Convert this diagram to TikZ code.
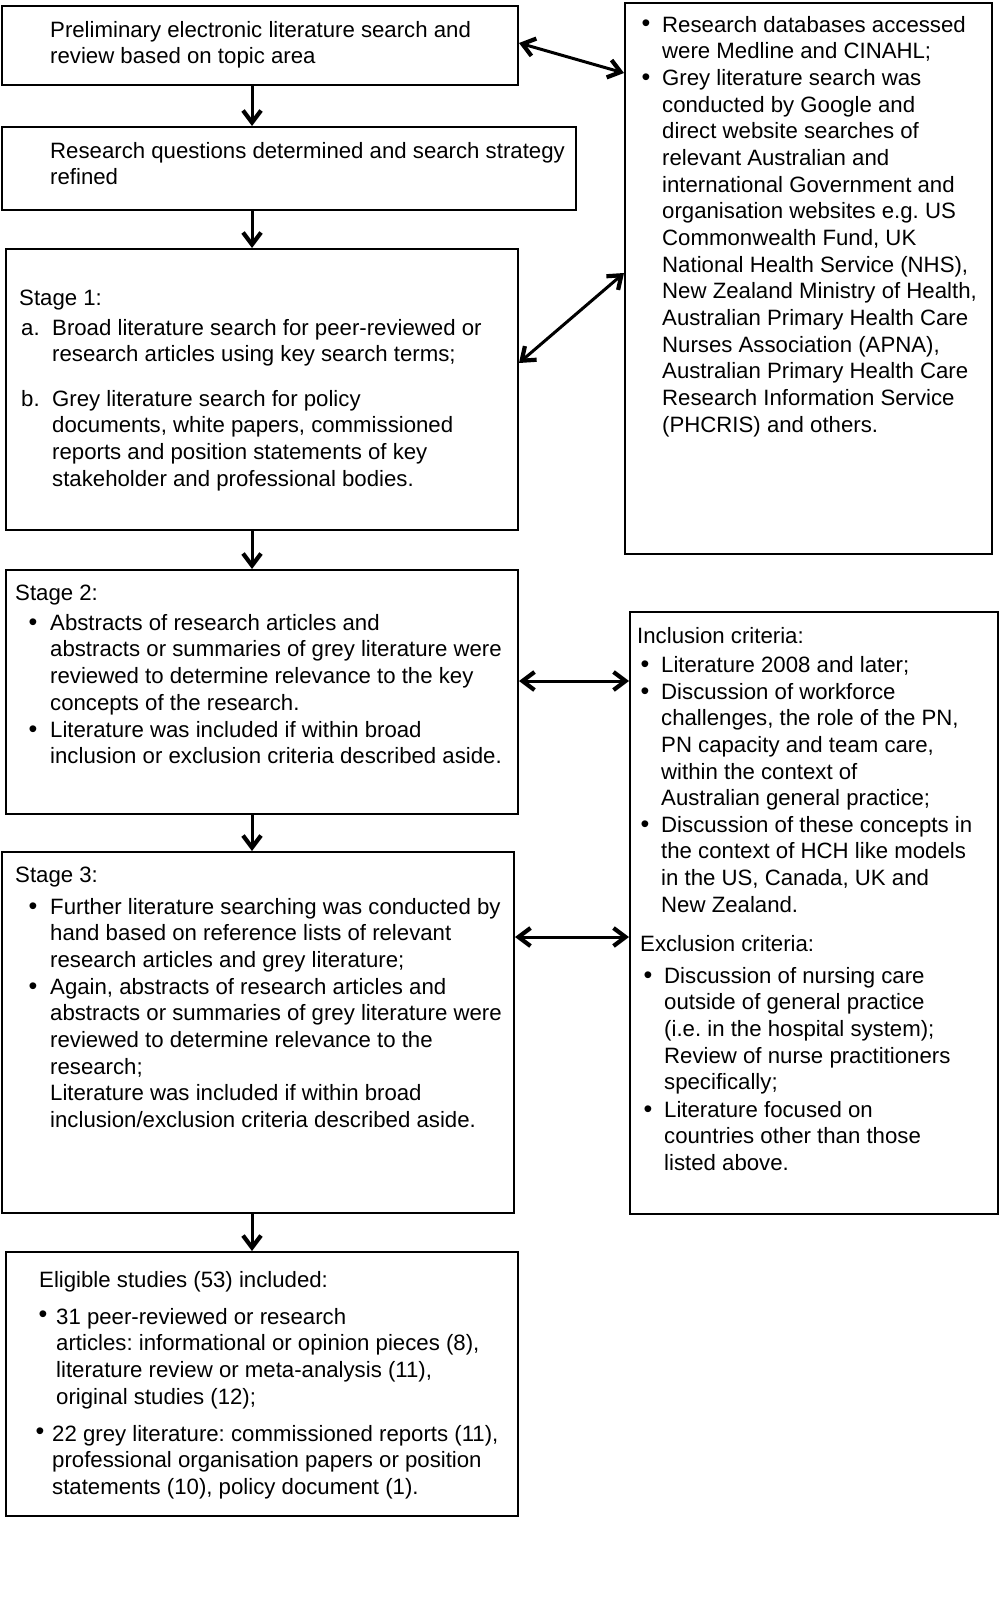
\documentclass[tikz,border=0pt]{standalone}
\usepackage{fontspec}
\setmainfont{Liberation Sans}
\usetikzlibrary{arrows.meta,calc}
\newcommand\fsz{\fontsize{22.2}{26.67}\selectfont\frenchspacing}
\newcommand\tb[4]{\node[txt] (#1) at (#2,#3-18.67) {\strut #4};}
\newcommand\bu[3]{\node[bul] (#1) at (#2,#3) {•};}
\begin{document}
\frenchspacing
\begin{tikzpicture}[x=1pt,y=-1pt,
  box/.style={draw, line width=2pt, inner sep=0pt, anchor=north west},
  tipb/.tip={Straight Barb[length=12pt,width=18pt,line width=4.2pt]},
  arr/.style={line width=3pt, -tipb},
  darr/.style={line width=3pt, tipb-tipb},
  txt/.style={anchor=north west, inner sep=0pt, align=left, font=\fsz},
  bul/.style={anchor=base, inner sep=0pt, font=\fontsize{25}{26.67}\selectfont}]
\useasboundingbox[fill=white] (0,0) rectangle (1000,1597);

% boxes
\node[box, minimum width=516pt, minimum height=79pt]  (b1) at (1,5) {};
\node[box, minimum width=367pt, minimum height=551pt] (db) at (624,2) {};
\node[box, minimum width=574pt, minimum height=83pt]  (b2) at (1,126) {};
\node[box, minimum width=512pt, minimum height=281pt] (b3) at (5,248) {};
\node[box, minimum width=512pt, minimum height=244pt] (s2) at (5,569) {};
\node[box, minimum width=368pt, minimum height=602pt] (inc) at (629,611) {};
\node[box, minimum width=512pt, minimum height=361pt] (s3) at (1,851) {};
\node[box, minimum width=512pt, minimum height=264pt] (el) at (5,1251) {};

% vertical arrows
\coordinate (ax) at (252,0);
\draw[arr] (b1.south -| ax) -- (b2.north -| ax);
\draw[arr] (b2.south -| ax) -- (b3.north -| ax);
\draw[arr] (b3.south -| ax) -- (s2.north -| ax);
\draw[arr] (s2.south -| ax) -- (s3.north -| ax);
\draw[arr] (s3.south -| ax) -- (el.north -| ax);

% double arrows
\draw[darr] ($(b1.north east)+(0,38)$) -- ($(db.north west)+(0,71)$);
\draw[darr] ($(b3.north east)+(0,115)$) -- ($(db.north west)+(0,271)$);
\draw[darr] ($(s2.north east)+(0,112)$) -- ($(inc.north west)+(0,70)$);
\draw[darr] ($(s3.north east)+(0,86)$) -- ($(inc.north west)+(0,326)$);

% texts
\tb{t1}{50}{37}{Preliminary electronic literature search and\\review based on topic area}
\tb{t2}{50}{158}{Research questions determined and search strategy\\refined}

\bu{d1}{646}{32}\bu{d2}{646}{85.3}
\tb{t3}{662}{32}{Research databases accessed\\were Medline and CINAHL;}
\tb{t4}{662}{85.3}{Grey literature search was\\conducted by Google and\\direct website searches of\\relevant Australian and\\international Government and\\organisation websites e.g. US\\Commonwealth Fund, UK\\National Health Service (NHS),\\New Zealand Ministry of Health,\\Australian Primary Health Care\\Nurses Association (APNA),\\Australian Primary Health Care\\Research Information Service\\(PHCRIS) and others.}

\tb{t5}{19}{305}{Stage 1:}
\tb{t6a}{21}{335}{a.}
\tb{t6}{52}{335}{Broad literature search for peer-reviewed or\\research articles using key search terms;}
\tb{t7a}{21}{406}{b.}
\tb{t7}{52}{406}{Grey literature search for policy\\documents, white papers, commissioned\\reports and position statements of key\\stakeholder and professional bodies.}

\tb{t8}{15}{600}{Stage 2:}
\bu{s2a}{33}{630}\bu{s2b}{33}{737}
\tb{t9}{50}{630}{Abstracts of research articles and\\abstracts or summaries of grey literature were\\reviewed to determine relevance to the key\\concepts of the research.}
\tb{t10}{50}{737}{Literature was included if within broad\\inclusion or exclusion criteria described aside.}

\tb{t11}{637}{643}{Inclusion criteria:}
\bu{i1}{645}{672}\bu{i2}{645}{699}\bu{i3}{645}{832}
\tb{t12}{661}{672}{Literature 2008 and later;}
\tb{t13}{661}{699}{Discussion of workforce\\challenges, the role of the PN,\\PN capacity and team care,\\within the context of\\Australian general practice;}
\tb{t14}{661}{832}{Discussion of these concepts in\\the context of HCH like models\\in the US, Canada, UK and\\New Zealand.}
\tb{t15}{640}{951}{Exclusion criteria:}
\bu{e1}{648}{983}\bu{e2}{648}{1117}
\tb{t16}{664}{983}{Discussion of nursing care\\outside of general practice\\(i.e. in the hospital system);\\Review of nurse practitioners\\specifically;}
\tb{t17}{664}{1117}{Literature focused on\\countries other than those\\listed above.}

\tb{t18}{15}{882}{Stage 3:}
\bu{s3a}{33}{914}\bu{s3b}{33}{994}
\tb{t19}{50}{914}{Further literature searching was conducted by\\hand based on reference lists of relevant\\research articles and grey literature;}
\tb{t20}{50}{994}{Again, abstracts of research articles and\\abstracts or summaries of grey literature were\\reviewed to determine relevance to the\\research;\\Literature was included if within broad\\inclusion/exclusion criteria described aside.}

\tb{t21}{39}{1287}{Eligible studies (53) included:}
\bu{l1}{43}{1322}\bu{l2}{40}{1439}
\tb{t22}{56}{1324}{31 peer-reviewed or research\\articles: informational or opinion pieces (8),\\literature review or meta-analysis (11),\\original studies (12);}
\tb{t23}{52}{1441}{22 grey literature: commissioned reports (11),\\professional organisation papers or position\\statements (10), policy document (1).}
\end{tikzpicture}
\end{document}
